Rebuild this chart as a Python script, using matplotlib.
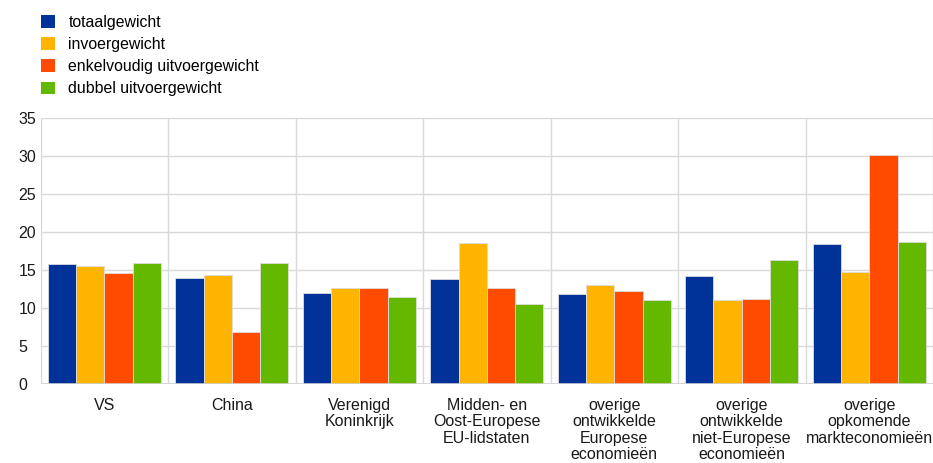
import numpy as np
import matplotlib.pyplot as plt
from matplotlib.patches import Patch

plt.rcParams['font.family'] = ['Liberation Sans', 'DejaVu Sans']

regions = ['VS', 'China', 'Verenigd\nKoninkrijk', 'Midden- en\nOost-Europese\nEU-lidstaten',
           'overige\nontwikkelde\nEuropese\neconomieën', 'overige\nontwikkelde\nniet-Europese\neconomieën',
           'overige\nopkomende\nmarkteconomieën']
series = ['totaalgewicht', 'invoergewicht', 'enkelvoudig uitvoergewicht', 'dubbel uitvoergewicht']
totaal = [15.8, 13.9, 12.0, 13.8, 11.9, 14.2, 18.5]
invoer = [15.5, 14.4, 12.7, 18.6, 13.1, 11.1, 14.7]
enkel_uitvoer = [14.6, 6.8, 12.6, 12.6, 12.3, 11.2, 30.1]
dubbel_uitvoer = [16.0, 16.0, 11.4, 10.5, 11.1, 16.4, 18.7]
colors = ['#003299', '#FFB400', '#FF4B00', '#65B800']

values = [totaal, invoer, enkel_uitvoer, dubbel_uitvoer]

fig = plt.figure(figsize=(9.33, 4.63), dpi=100)
ax = fig.add_axes([0.0436, 0.1706, 0.9564, 0.5739])

x = np.arange(len(regions))
w = 0.222
for i, (vals, c) in enumerate(zip(values, colors)):
    ax.bar(x + (i - 1.5) * w, vals, w, color=c, edgecolor='#dddddd', linewidth=0.6, zorder=3)

ax.set_xlim(-0.5, len(regions) - 0.5)
ax.set_ylim(0, 35)
ax.set_yticks(range(0, 36, 5))
ax.set_xticks(x)
ax.set_xticklabels(regions, fontsize=11.5, linespacing=1.12, va='top')
ax.tick_params(axis='both', length=0, labelsize=11.5, colors='#1a1a1a')
ax.tick_params(axis='x', pad=10)
ax.tick_params(axis='y', pad=16)
for lbl in ax.get_yticklabels():
    lbl.set_horizontalalignment('left')

# horizontal grid plus separators between the regions
ax.grid(axis='y', color='#d9d9d9', linewidth=1.0, zorder=0)
for b in np.arange(-0.5, len(regions), 1.0):
    ax.axvline(b, color='#d9d9d9', linewidth=1.0, zorder=0)
for s in ax.spines.values():
    s.set_visible(False)
ax.axhline(0, color='#d0d0d0', linewidth=1.2, zorder=4)

handles = [Patch(facecolor=c, edgecolor='none') for c in colors]
fig.legend(handles, series, loc='upper left', bbox_to_anchor=(0.044, 1 - 15 / 463), frameon=False,
           fontsize=11.4, handlelength=0.9, handleheight=0.85, handletextpad=0.82, labelspacing=0.45,
           borderaxespad=0, borderpad=0)

fig.savefig('out.png', dpi=100)
